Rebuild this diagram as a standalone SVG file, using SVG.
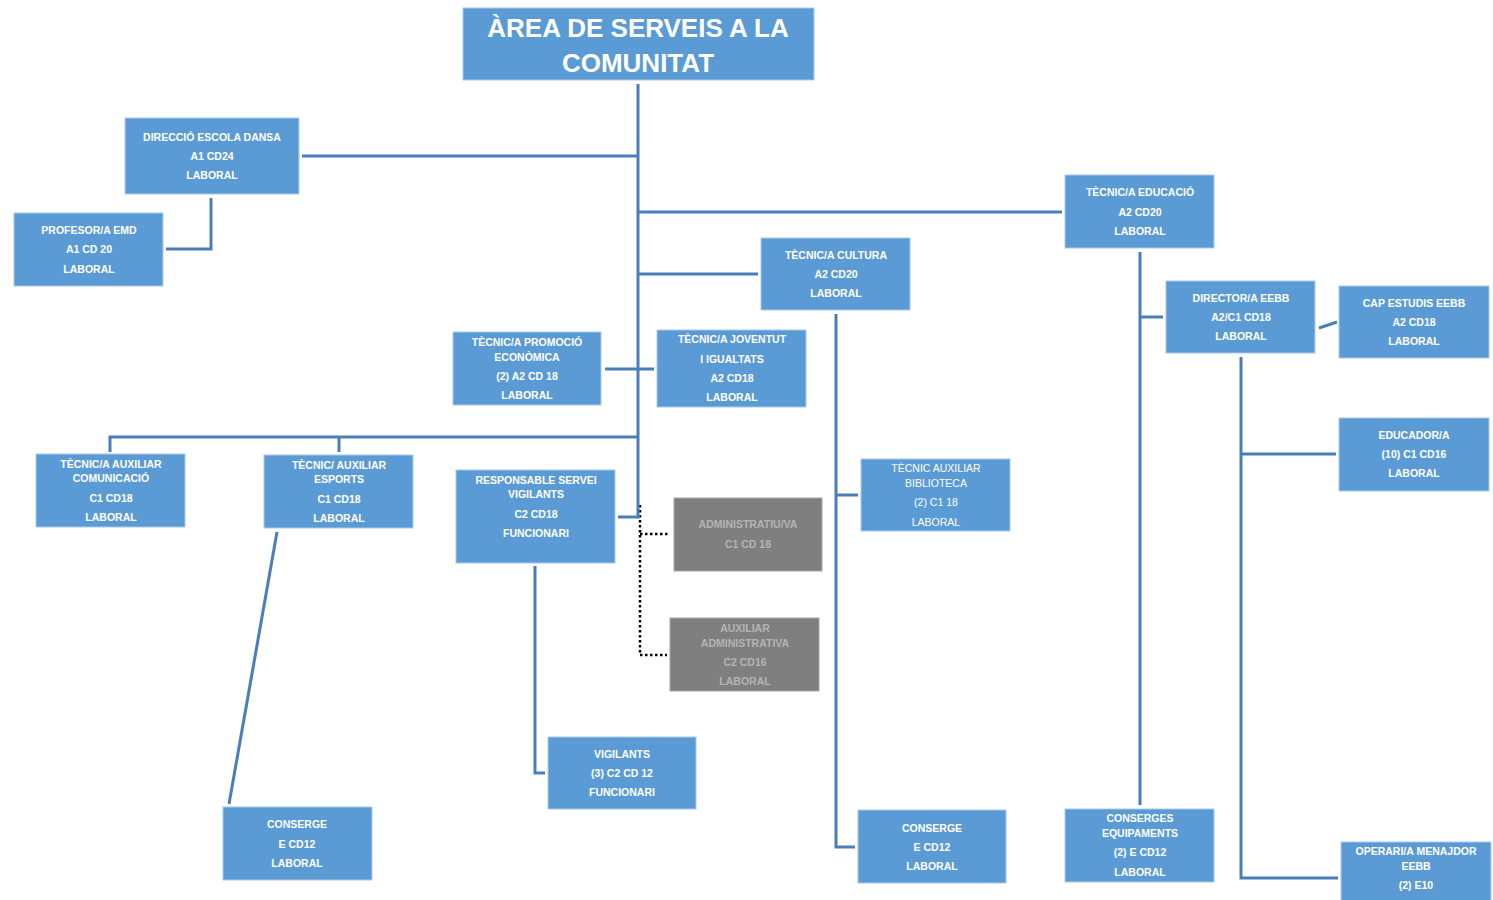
<svg xmlns="http://www.w3.org/2000/svg" width="1493" height="900" viewBox="0 0 1493 900">
<style>
.b{fill:#5B9BD5;stroke:#A9C9EA;stroke-width:1}
.g{fill:#7F7F7F;stroke:#A6A6A6;stroke-width:1}
.t{font-family:"Liberation Sans",Arial,sans-serif;font-weight:bold;font-size:10.5px;fill:#fff;text-anchor:middle}
.n{font-weight:normal}
.gt{fill:#B4B4B4}
.h{font-size:26px}
.c{fill:none;stroke:#4A7EBB;stroke-width:3}
.d{fill:none;stroke:#000;stroke-width:2.5;stroke-dasharray:2.5 2.5}
</style>
<rect width="1493" height="900" fill="#fff"/>
<g id="connectors">
<path class="d" d="M640 505V655H667M640 534H670"/>
<path class="c" d="M638 84V517M618 517H640"/>
<path class="c" d="M302 156H638M211 198V249H166"/>
<path class="c" d="M638 212H1062M638 274H758M605 369H654"/>
<path class="c" d="M638 437H110V452M339 437V452"/>
<path class="c" d="M277 532L229 804"/>
<path class="c" d="M535 566V773H545"/>
<path class="c" d="M836 314V847H855M836 495H858"/>
<path class="c" d="M1140 252V805M1140 317H1163"/>
<path class="c" d="M1319 328L1337 322M1241 357V878H1338M1241 454H1336"/>
</g>
<g id="n-title"><rect class="b" x="463" y="8" width="351" height="72"/><text class="t h" x="638" y="37">ÀREA DE SERVEIS A LA</text><text class="t h" x="638" y="72">COMUNITAT</text></g>
<g id="n-dansa"><rect class="b" x="125" y="118" width="174" height="76"/><text class="t" x="212" y="141">DIRECCIÓ ESCOLA DANSA</text><text class="t" x="212" y="160">A1 CD24</text><text class="t" x="212" y="179">LABORAL</text></g>
<g id="n-emd"><rect class="b" x="14" y="213" width="149" height="73"/><text class="t" x="89" y="234">PROFESOR/A EMD</text><text class="t" x="89" y="253">A1 CD 20</text><text class="t" x="89" y="273">LABORAL</text></g>
<g id="n-educacio"><rect class="b" x="1065" y="175" width="149" height="73"/><text class="t" x="1140" y="196">TÈCNIC/A EDUCACIÓ</text><text class="t" x="1140" y="216">A2 CD20</text><text class="t" x="1140" y="235">LABORAL</text></g>
<g id="n-cultura"><rect class="b" x="761" y="238" width="149" height="72"/><text class="t" x="836" y="259">TÈCNIC/A CULTURA</text><text class="t" x="836" y="278">A2 CD20</text><text class="t" x="836" y="297">LABORAL</text></g>
<g id="n-promocio"><rect class="b" x="453" y="332" width="148" height="73"/><text class="t" x="527" y="346">TÈCNIC/A PROMOCIÓ</text><text class="t" x="527" y="361">ECONÒMICA</text><text class="t" x="527" y="380">(2) A2 CD 18</text><text class="t" x="527" y="399">LABORAL</text></g>
<g id="n-joventut"><rect class="b" x="657" y="330" width="149" height="77"/><text class="t" x="732" y="343">TÈCNIC/A JOVENTUT</text><text class="t" x="732" y="363">I IGUALTATS</text><text class="t" x="732" y="382">A2 CD18</text><text class="t" x="732" y="401">LABORAL</text></g>
<g id="n-comunicacio"><rect class="b" x="36" y="454" width="149" height="73"/><text class="t" x="111" y="468">TÈCNIC/A AUXILIAR</text><text class="t" x="111" y="482">COMUNICACIÓ</text><text class="t" x="111" y="502">C1 CD18</text><text class="t" x="111" y="521">LABORAL</text></g>
<g id="n-esports"><rect class="b" x="264" y="455" width="149" height="73"/><text class="t" x="339" y="469">TÈCNIC/ AUXILIAR</text><text class="t" x="339" y="483">ESPORTS</text><text class="t" x="339" y="503">C1 CD18</text><text class="t" x="339" y="522">LABORAL</text></g>
<g id="n-conserge1"><rect class="b" x="223" y="807" width="149" height="73"/><text class="t" x="297" y="828">CONSERGE</text><text class="t" x="297" y="848">E CD12</text><text class="t" x="297" y="867">LABORAL</text></g>
<g id="n-responsable"><rect class="b" x="456" y="470" width="159" height="93"/><text class="t" x="536" y="484">RESPONSABLE SERVEI</text><text class="t" x="536" y="498">VIGILANTS</text><text class="t" x="536" y="518">C2 CD18</text><text class="t" x="536" y="537">FUNCIONARI</text></g>
<g id="n-vigilants"><rect class="b" x="548" y="737" width="148" height="72"/><text class="t" x="622" y="758">VIGILANTS</text><text class="t" x="622" y="777">(3) C2 CD 12</text><text class="t" x="622" y="796">FUNCIONARI</text></g>
<g id="n-administratiu"><rect class="g" x="674" y="498" width="148" height="73"/><text class="t gt" x="748" y="528">ADMINISTRATIU/VA</text><text class="t gt" x="748" y="548">C1 CD 18</text></g>
<g id="n-auxiliar"><rect class="g" x="670" y="618" width="149" height="73"/><text class="t gt" x="745" y="632">AUXILIAR</text><text class="t gt" x="745" y="647">ADMINISTRATIVA</text><text class="t gt" x="745" y="666">C2 CD16</text><text class="t gt" x="745" y="685">LABORAL</text></g>
<g id="n-biblioteca"><rect class="b" x="861" y="459" width="149" height="72"/><text class="t n" x="936" y="472">TÈCNIC AUXILIAR</text><text class="t n" x="936" y="487">BIBLIOTECA</text><text class="t n" x="936" y="506">(2) C1 18</text><text class="t n" x="936" y="526">LABORAL</text></g>
<g id="n-conserge2"><rect class="b" x="858" y="810" width="148" height="73"/><text class="t" x="932" y="832">CONSERGE</text><text class="t" x="932" y="851">E CD12</text><text class="t" x="932" y="870">LABORAL</text></g>
<g id="n-director"><rect class="b" x="1166" y="281" width="149" height="72"/><text class="t" x="1241" y="302">DIRECTOR/A EEBB</text><text class="t" x="1241" y="321">A2/C1 CD18</text><text class="t" x="1241" y="340">LABORAL</text></g>
<g id="n-capestudis"><rect class="b" x="1339" y="286" width="150" height="72"/><text class="t" x="1414" y="307">CAP ESTUDIS EEBB</text><text class="t" x="1414" y="326">A2 CD18</text><text class="t" x="1414" y="345">LABORAL</text></g>
<g id="n-educador"><rect class="b" x="1339" y="418" width="150" height="73"/><text class="t" x="1414" y="439">EDUCADOR/A</text><text class="t" x="1414" y="458">(10) C1 CD16</text><text class="t" x="1414" y="477">LABORAL</text></g>
<g id="n-conserges"><rect class="b" x="1065" y="809" width="149" height="73"/><text class="t" x="1140" y="822">CONSERGES</text><text class="t" x="1140" y="837">EQUIPAMENTS</text><text class="t" x="1140" y="856">(2) E CD12</text><text class="t" x="1140" y="876">LABORAL</text></g>
<g id="n-operari"><rect class="b" x="1341" y="842" width="150" height="62"/><text class="t" x="1416" y="855">OPERARI/A MENAJDOR</text><text class="t" x="1416" y="870">EEBB</text><text class="t" x="1416" y="889">(2) E10</text></g>
</svg>
